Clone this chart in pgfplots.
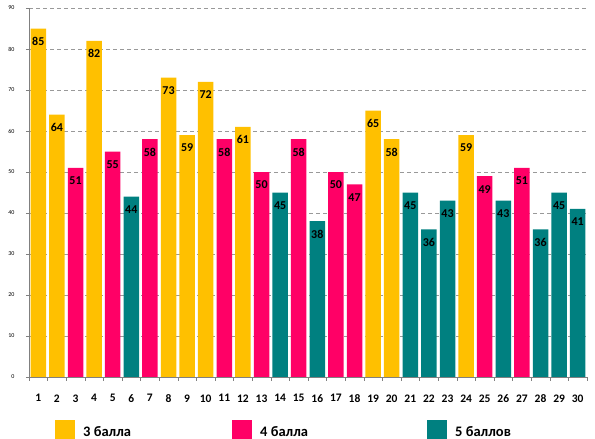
\documentclass[border=0pt]{standalone}
\usepackage{pgfplots}
\pgfplotsset{compat=1.18}
\usepackage{fontspec}
\setmainfont{Carlito}
\definecolor{cY}{HTML}{FFC000}
\definecolor{cP}{HTML}{FF0066}
\definecolor{cT}{HTML}{008080}
\begin{document}
\begin{tikzpicture}[x=1pt,y=1pt]
\path[use as bounding box] (0,0) rectangle (595,439);
\begin{axis}[
 at={(29pt,62pt)}, anchor=south west,
 scale only axis, width=558pt, height=369pt,
 xmin=0.5, xmax=30.5, ymin=0, ymax=90,
 ybar, bar width=15.5pt, bar shift=0pt,
 axis lines=left, axis line style={gray, -},
 every tick/.style={gray},
 ytick={0,10,...,90},
 tick align=outside, major tick length=3pt, minor tick length=4pt,
 ymajorgrids, grid style={gray!80, dash pattern=on 4pt off 3pt},
 xtick={1,...,30}, major x tick style={draw=none},
 minor xtick={0.5,1.5,...,30.5},
 /pgf/number format/assume math mode=true,
 x tick label style={font=\bfseries\fontsize{11.5}{11.5}\selectfont, yshift=-11pt},
 y tick label style={font=\fontsize{6}{6}\selectfont, xshift=-8pt},
 nodes near coords,
 every node near coord/.append style={font=\bfseries\fontsize{12}{12}\selectfont, anchor=center, yshift=-13pt, text=black},
 legend columns=3,
 legend style={at={(rel axis cs:0,0)}, anchor=north west, xshift=26pt, yshift=-43pt,
   draw=none, fill=none, inner sep=0pt, column sep=0pt, nodes={inner sep=0pt},
   font=\bfseries\fontsize{14.5}{14.5}\selectfont},
 legend cell align=left,
 sq/.style={legend image code/.code={\fill[##1] (0pt,-8pt) rectangle (20pt,12pt);}},
]
\addplot[fill=cY, draw=none, sq] coordinates {(1,85) (2,64) (4,82) (8,73) (9,59) (10,72) (12,61) (19,65) (20,58) (24,59)};
\addlegendentry{\makebox[157pt][l]{\hspace{8pt}3 балла}}
\addplot[fill=cP, draw=none, sq] coordinates {(3,51) (5,55) (7,58) (11,58) (13,50) (15,58) (17,50) (18,47) (25,49) (27,51)};
\addlegendentry{\makebox[175pt][l]{\hspace{8pt}4 балла}}
\addplot[fill=cT, draw=none, sq] coordinates {(6,44) (14,45) (16,38) (21,45) (22,36) (23,43) (26,43) (28,36) (29,45) (30,41)};
\addlegendentry{\makebox[100pt][l]{\hspace{8pt}5 баллов}}
\end{axis}
\end{tikzpicture}
\end{document}
